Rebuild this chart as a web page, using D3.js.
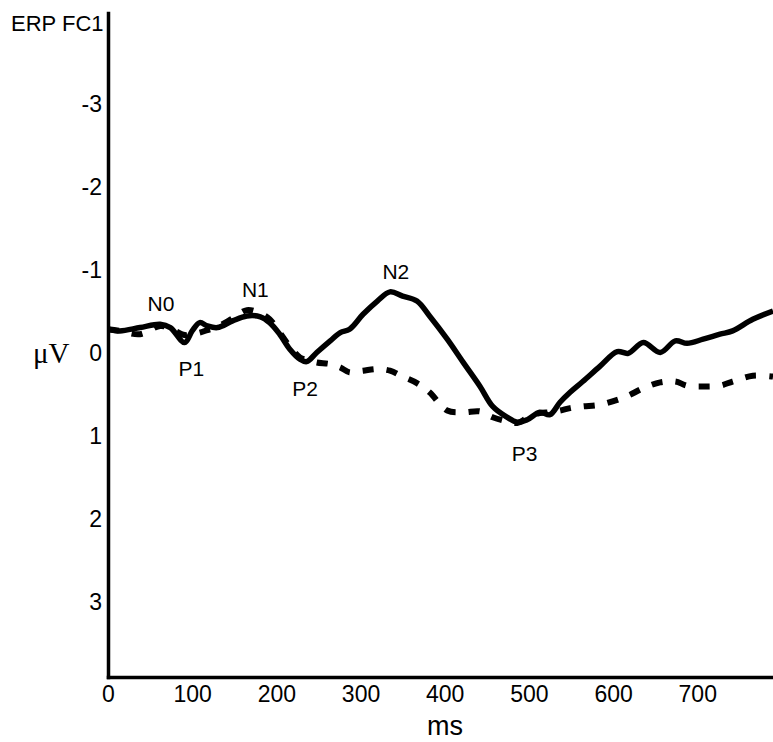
<!DOCTYPE html>
<html>
<head>
<meta charset="utf-8">
<script src="https://cdn.jsdelivr.net/npm/d3@7"></script>
<style>
  body { margin: 0; background: #fff; }
  text { font-family: "Liberation Sans", Arial, sans-serif; fill: #000; }
</style>
</head>
<body>
<div id="viz"><svg></svg></div>
<script>
const fullWidth = 773;
const fullHeight = 742;

// time points (ms) shared by both waveforms
const times = [0, 14, 38, 62, 74, 91, 100, 109, 118, 130, 148, 165, 181, 192, 204, 216, 228, 236, 248, 264,
  276, 287, 303, 320, 335, 350, 367, 382, 403, 422, 442, 457, 474, 486, 498, 513, 525, 537, 549, 564,
  584, 605, 618, 636, 656, 674, 688, 707, 727, 742, 766, 790];

// solid waveform (µV, negative up)
const solidValues = [-0.29, -0.27, -0.31, -0.35, -0.31, -0.13, -0.27, -0.37, -0.33, -0.31, -0.39, -0.45, -0.44, -0.37, -0.23, -0.05, 0.07, 0.10, -0.01, -0.15,
  -0.25, -0.29, -0.47, -0.63, -0.74, -0.69, -0.63, -0.45, -0.17, 0.11, 0.40, 0.64, 0.77, 0.83, 0.80, 0.71, 0.74, 0.59, 0.47, 0.34,
  0.16, -0.02, 0.00, -0.13, -0.01, -0.15, -0.12, -0.17, -0.23, -0.27, -0.41, -0.51];

// dashed waveform
const dashedValues = [-0.29, -0.27, -0.23, -0.33, -0.30, -0.22, -0.23, -0.25, -0.28, -0.32, -0.42, -0.52, -0.48, -0.41, -0.25, -0.08, 0.05, 0.08, 0.11, 0.13,
  0.17, 0.23, 0.21, 0.19, 0.21, 0.28, 0.36, 0.47, 0.69, 0.71, 0.70, 0.77, 0.82, 0.84, 0.78, 0.72, 0.71, 0.69, 0.66, 0.64,
  0.62, 0.56, 0.51, 0.42, 0.35, 0.34, 0.39, 0.40, 0.39, 0.34, 0.27, 0.28];

// component labels
const peakNames = ['N0', 'P1', 'N1', 'P2', 'N2', 'P3'];
const peakTimes = [63, 99, 175, 234, 342, 495];
const peakValues = [-0.51, 0.27, -0.68, 0.52, -0.90, 1.30];

const xTicks = [0, 100, 200, 300, 400, 500, 600, 700];
const yTicks = [-3, -2, -1, 0, 1, 2, 3];

const svg = d3.select('#viz svg')
  .attr('width', fullWidth)
  .attr('height', fullHeight);

svg.append('rect')
  .attr('width', fullWidth)
  .attr('height', fullHeight)
  .attr('fill', '#fff');

const x = d3.scaleLinear().domain([0, 790]).range([108, 773]);
const y = d3.scaleLinear().domain([-4.1, 3.9]).range([13, 677]);

const solid = times.map((t, i) => ({ t, v: solidValues[i] }));
const dashed = times.map((t, i) => ({ t, v: dashedValues[i] }));

const line = d3.line()
  .x(d => x(d.t))
  .y(d => y(d.v))
  .curve(d3.curveCatmullRom);

// axes
const xAxis = svg.append('g')
  .attr('transform', `translate(0,${y.range()[1]})`)
  .call(d3.axisBottom(x).tickValues(xTicks).tickSize(0).tickPadding(9).tickFormat(d => String(d)));

const yAxis = svg.append('g')
  .attr('transform', `translate(${x.range()[0]},0)`)
  .call(d3.axisLeft(y).tickValues(yTicks).tickSize(0).tickPadding(6).tickFormat(d => String(d)));

[xAxis, yAxis].forEach(a => {
  a.select('.domain')
    .attr('stroke', '#000')
    .attr('stroke-width', 3.5)
    .attr('stroke-linecap', 'square');
  a.selectAll('text')
    .attr('font-family', '"Liberation Sans", Arial, sans-serif')
    .attr('font-size', 23)
    .attr('fill', '#000');
});

svg.append('path')
  .datum(dashed)
  .attr('fill', 'none')
  .attr('stroke', '#000')
  .attr('stroke-width', 6)
  .attr('stroke-dasharray', '11,13')
  .attr('d', line);

svg.append('path')
  .datum(solid)
  .attr('fill', 'none')
  .attr('stroke', '#000')
  .attr('stroke-width', 5.5)
  .attr('stroke-linejoin', 'round')
  .attr('d', line);

svg.selectAll('.peak')
  .data(peakNames)
  .enter().append('text')
  .attr('class', 'peak')
  .attr('x', (d, i) => x(peakTimes[i]))
  .attr('y', (d, i) => y(peakValues[i]))
  .attr('text-anchor', 'middle')
  .attr('font-size', 21)
  .text(d => d);

svg.append('text')
  .attr('x', 11)
  .attr('y', 31)
  .attr('font-size', 22)
  .text('ERP FC1');

svg.append('text')
  .attr('x', 33)
  .attr('y', 363)
  .attr('font-size', 29)
  .style('font-family', '"Liberation Serif", "Times New Roman", serif')
  .text('μV');

svg.append('text')
  .attr('x', 445)
  .attr('y', 735)
  .attr('text-anchor', 'middle')
  .attr('font-size', 27)
  .text('ms');
</script>
</body>
</html>
